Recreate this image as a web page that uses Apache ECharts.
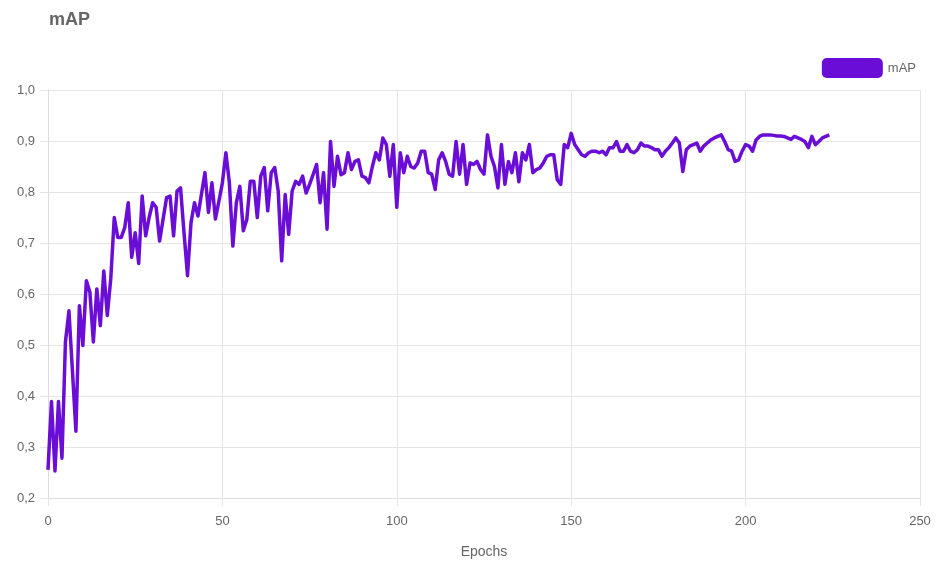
<!DOCTYPE html>
<html>
<head>
<meta charset="utf-8">
<script src="https://cdn.jsdelivr.net/npm/echarts@6/dist/echarts.min.js"></script>
<style>
html,body{margin:0;padding:0;background:#fff;}
#chart{width:940px;height:564px;}
</style>
</head>
<body>
<div id="chart"></div>
<script>
const titleText = 'mAP';
const seriesName = 'mAP';
const xAxisName = 'Epochs';
const xTicks = [0, 50, 100, 150, 200, 250];
const yTicks = [0.2, 0.3, 0.4, 0.5, 0.6, 0.7, 0.8, 0.9, 1.0];
// mAP per epoch (index = epoch, 0..224)
const mapValues = [
  0.255,0.389,0.253,0.389,0.278,0.506,0.567,0.45,0.331,0.577,
  0.499,0.626,0.604,0.506,0.61,0.538,0.645,0.558,0.63,0.75,
  0.711,0.711,0.73,0.779,0.672,0.72,0.66,0.792,0.714,0.75,
  0.779,0.77,0.704,0.747,0.789,0.792,0.714,0.802,0.808,0.72,
  0.636,0.74,0.779,0.753,0.796,0.838,0.76,0.818,0.747,0.782,
  0.818,0.877,0.818,0.694,0.779,0.811,0.724,0.746,0.821,0.821,
  0.75,0.831,0.848,0.763,0.838,0.848,0.802,0.665,0.795,0.717,
  0.802,0.821,0.815,0.831,0.798,0.815,0.834,0.854,0.779,0.838,
  0.727,0.899,0.811,0.87,0.834,0.838,0.877,0.844,0.86,0.863,
  0.831,0.828,0.818,0.85,0.877,0.863,0.906,0.893,0.831,0.893,
  0.77,0.877,0.838,0.87,0.85,0.847,0.857,0.88,0.88,0.838,
  0.835,0.805,0.863,0.877,0.86,0.835,0.831,0.899,0.835,0.893,
  0.815,0.857,0.854,0.86,0.844,0.835,0.912,0.87,0.85,0.808,
  0.893,0.815,0.86,0.838,0.877,0.82,0.877,0.863,0.893,0.838,
  0.844,0.847,0.857,0.87,0.873,0.873,0.824,0.815,0.893,0.887,
  0.915,0.893,0.883,0.873,0.87,0.877,0.88,0.88,0.877,0.88,
  0.873,0.887,0.887,0.899,0.88,0.88,0.893,0.88,0.877,0.883,
  0.896,0.89,0.89,0.887,0.883,0.883,0.87,0.88,0.887,0.896,
  0.906,0.896,0.84,0.883,0.89,0.893,0.896,0.88,0.89,0.896,
  0.902,0.906,0.909,0.912,0.899,0.883,0.88,0.86,0.863,0.88,
  0.893,0.89,0.88,0.902,0.909,0.912,0.912,0.912,0.911,0.91,
  0.91,0.909,0.906,0.903,0.909,0.906,0.903,0.899,0.887,0.909,
  0.893,0.899,0.906,0.909,0.912
];
const lineColor = '#6a0dd6';

const chart = echarts.init(document.getElementById('chart'), null, {renderer:'canvas'});
const pairs = mapValues.map((v, i) => [i, v]);
const font = 'Arial, "Liberation Sans", sans-serif';
chart.setOption({
  animation: false,
  backgroundColor: '#fff',
  title: {
    text: titleText, left: 44, top: 6,
    textStyle: {fontSize: 18, fontWeight: 'bold', color: '#666', fontFamily: font}
  },
  legend: {
    data: [{name: seriesName, icon: 'roundRect'}],
    right: 19, top: 53,
    itemWidth: 61, itemHeight: 20, itemGap: 5,
    textStyle: {fontSize: 13, color: '#666', fontFamily: font}
  },
  grid: {left: 48, right: 20, top: 90, bottom: 64, containLabel: false},
  xAxis: {
    type: 'value', min: xTicks[0], max: xTicks[xTicks.length-1], interval: 50,
    name: xAxisName, nameLocation: 'middle', nameGap: 47,
    nameTextStyle: {fontSize: 14, color: '#666', fontFamily: font},
    axisLine: {show: true, lineStyle: {color: '#ddd', width: 1}},
    axisTick: {show: true, length: 8, lineStyle: {color: '#e6e6e6'}},
    axisLabel: {color: '#666', fontSize: 13, margin: 17, fontFamily: font},
    splitLine: {show: true, lineStyle: {color: '#e6e6e6', width: 1}}
  },
  yAxis: {
    type: 'value', min: yTicks[0], max: yTicks[yTicks.length-1], interval: 0.1,
    axisLine: {show: true, lineStyle: {color: '#ddd', width: 1}},
    axisTick: {show: true, length: 8, lineStyle: {color: '#e6e6e6'}},
    axisLabel: {color: '#666', fontSize: 13, margin: 13, fontFamily: font,
      formatter: v => v.toFixed(1).replace('.', ',')},
    splitLine: {show: true, lineStyle: {color: '#e6e6e6', width: 1}}
  },
  series: [{
    name: seriesName, type: 'line', data: pairs,
    showSymbol: false, symbol: 'none',
    itemStyle: {color: lineColor},
    lineStyle: {color: lineColor, width: 3.5, join: 'round'}
  }]
});
</script>
</body>
</html>
